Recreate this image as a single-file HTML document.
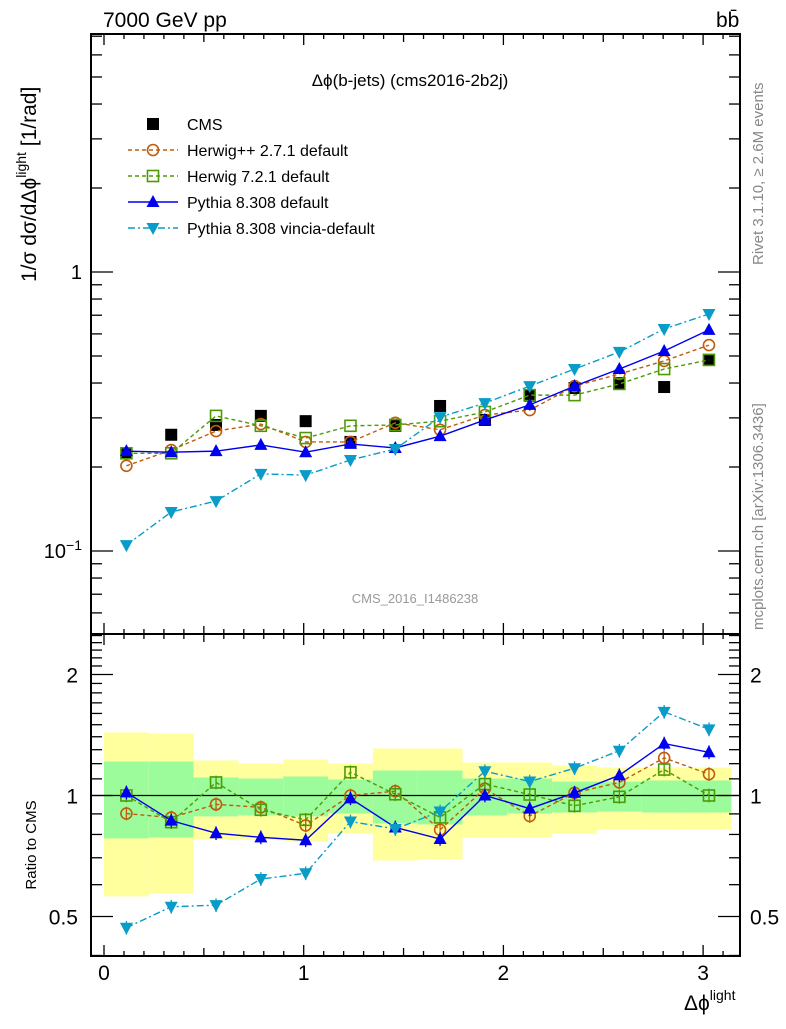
<!DOCTYPE html>
<html><head><meta charset="utf-8"><style>
body{margin:0;background:#fff;}
svg text{font-family:"Liberation Sans",sans-serif;}
</style></head><body>
<svg id="c" width="786" height="1024" viewBox="0 0 786 1024" xmlns="http://www.w3.org/2000/svg">
<text x="103" y="27" font-size="21">7000 GeV pp</text>
<text x="716" y="27" font-size="21">bb̄</text>
<text x="410" y="86" font-size="17" text-anchor="middle">Δϕ(b-jets) (cms2016-2b2j)</text>
<text x="415" y="603" font-size="13" fill="#999" text-anchor="middle">CMS_2016_I1486238</text>
<text transform="translate(763,265) rotate(-90)" font-size="15" fill="#888">Rivet 3.1.10, ≥ 2.6M events</text>
<text transform="translate(763,630) rotate(-90)" font-size="15" fill="#888">mcplots.cern.ch [arXiv:1306.3436]</text>
<text transform="translate(36,282) rotate(-90)" font-size="21">1/σ dσ/dΔϕ<tspan dy="-10" font-size="14">light</tspan><tspan dy="10"> [1/rad]</tspan></text>
<text transform="translate(36,845) rotate(-90)" font-size="15" text-anchor="middle">Ratio to CMS</text>
<text x="684" y="1010" font-size="21">Δϕ<tspan dy="-10" font-size="14">light</tspan></text>
<g id="g"></g>
</svg>
<script>
const binEdges=[0,0.2244,0.4488,0.6732,0.8976,1.122,1.3464,1.5708,1.7952,2.0196,2.244,2.4684,2.6928,2.9172,3.1416];
const cms=[0.224,0.261,0.283,0.305,0.292,0.246,0.281,0.331,0.295,0.360,0.384,0.400,0.387,0.484];
const herwigpp=[0.202,0.230,0.269,0.285,0.246,0.246,0.288,0.272,0.307,0.320,0.390,0.431,0.480,0.547];
const herwig7=[0.224,0.224,0.305,0.281,0.254,0.281,0.283,0.292,0.315,0.362,0.362,0.397,0.449,0.484];
const pythia=[0.228,0.226,0.228,0.240,0.226,0.242,0.234,0.258,0.295,0.334,0.390,0.449,0.521,0.620];
const vincia=[0.105,0.138,0.151,0.189,0.187,0.212,0.232,0.302,0.339,0.390,0.449,0.517,0.625,0.707];
const totUp=[1.435,1.427,1.222,1.201,1.229,1.201,1.309,1.309,1.208,1.208,1.188,1.174,1.174,1.174];
const totDn=[0.561,0.570,0.777,0.777,0.768,0.804,0.689,0.693,0.786,0.786,0.804,0.823,0.823,0.823];
const statUp=[1.215,1.215,1.109,1.102,1.115,1.096,1.154,1.154,1.102,1.102,1.083,1.083,1.090,1.090];
const statDn=[0.782,0.786,0.887,0.892,0.887,0.902,0.852,0.847,0.892,0.902,0.907,0.912,0.907,0.907];
const xTicks=[0,1,2,3];
const ratioTickLabels=[0.5,1,2];

const L=91,R=740,T=34,MB=634,RB=956;
const X=v=>104+v*199.7;
const YM=v=>272-Math.log10(v)*279;
const YR=v=>795.5-Math.log10(v)*402;
const g=document.getElementById('g');
const NS='http://www.w3.org/2000/svg';
function mk(t,a,p){const e=document.createElementNS(NS,t);for(const k in a)e.setAttribute(k,a[k]);(p||g).appendChild(e);return e;}
const centers=binEdges.slice(0,-1).map((e,i)=>(e+binEdges[i+1])/2);

for(let i=0;i<14;i++){
 const x0=X(binEdges[i]),x1=X(binEdges[i+1]);
 const b=mk('rect',{x:x0,y:YR(totUp[i]),width:x1-x0,height:YR(totDn[i])-YR(totUp[i]),fill:'#ffff9e'});
 
 
 const s=mk('rect',{x:x0,y:YR(statUp[i]),width:x1-x0,height:YR(statDn[i])-YR(statUp[i]),fill:'#9cfc9c'});
 
 
}
const one=mk('line',{x1:L,x2:R,y1:YR(1),y2:YR(1),stroke:'#000','stroke-width':1.3});



function marker(type,x,y,col,name){
 let e;
 if(type==='sq') e=mk('rect',{x:x-6,y:y-6,width:12,height:12,fill:'#000'});
 else if(type==='osq') e=mk('rect',{x:x-5.5,y:y-5.5,width:11,height:11,fill:'none',stroke:col,'stroke-width':1.6});
 else if(type==='oc') e=mk('circle',{cx:x,cy:y,r:5.5,fill:'none',stroke:col,'stroke-width':1.6});
 else if(type==='up') e=mk('polygon',{points:`${x},${y-7} ${x-6.5},${y+5} ${x+6.5},${y+5}`,fill:col});
 else e=mk('polygon',{points:`${x},${y+7} ${x-6.5},${y-5} ${x+6.5},${y-5}`,fill:col});
 
 
}
centers.forEach((c,i)=>marker('sq',X(c),YM(cms[i]),'#000','cms-point'));
const series=[
 {d:herwigpp,c:'#c05c0c',dash:'4,3',m:'oc',n:'herwigpp'},
 {d:herwig7,c:'#4e9a06',dash:'4,3',m:'osq',n:'herwig7'},
 {d:pythia,c:'#0000ee',dash:'',m:'up',n:'pythia'},
 {d:vincia,c:'#0a9cc8',dash:'7,3,2,3',m:'dn',n:'vincia'}
];
series.forEach(s=>{
 const pm=centers.map((c,i)=>X(c)+','+YM(s.d[i])).join(' ');
 const l1=mk('polyline',{points:pm,fill:'none',stroke:s.c,'stroke-width':1.4,'stroke-dasharray':s.dash});
 
 
 const pr=centers.map((c,i)=>X(c)+','+YR(s.d[i]/cms[i])).join(' ');
 const l2=mk('polyline',{points:pr,fill:'none',stroke:s.c,'stroke-width':1.4,'stroke-dasharray':s.dash});
 
 
 centers.forEach((c,i)=>{
  const r=s.d[i]/cms[i];
  const eb=mk('line',{x1:X(c),x2:X(c),y1:YR(r*1.04),y2:YR(r/1.04),stroke:s.c,'stroke-width':1.3});
  
  
  marker(s.m,X(c),YM(s.d[i]),s.c,s.n+'-point');
  marker(s.m,X(c),YR(r),s.c,s.n+'-ratio-point');
 });
});

[[T,MB],[MB,RB]].forEach(([a,b],k)=>{
 const f=mk('rect',{x:L,y:a,width:R-L,height:b-a,fill:'none',stroke:'#000','stroke-width':2});
 
 
 for(let v=0;v<=3.15;v+=0.1){
  const vv=Math.round(v*10)/10;const major=Math.abs(vv-Math.round(vv))<1e-6;const len=major?11:(Math.abs(vv*2-Math.round(vv*2))<1e-6?8:5);
  mk('line',{x1:X(vv),x2:X(vv),y1:a,y2:a+len,stroke:'#000','stroke-width':1.3});
  mk('line',{x1:X(vv),x2:X(vv),y1:b,y2:b-len,stroke:'#000','stroke-width':1.3});
 }
});
for(let e=-2;e<=0;e++)for(let m=1;m<=9;m++){
 const v=m*Math.pow(10,e);const y=YM(v);if(y<T||y>MB)continue;
 const len=m===1?22:11;
 mk('line',{x1:L,x2:L+len,y1:y,y2:y,stroke:'#000','stroke-width':1.3});
 mk('line',{x1:R,x2:R-len,y1:y,y2:y,stroke:'#000','stroke-width':1.3});
}
const t1=mk('text',{x:82,y:YM(1)+7,'font-size':20,'text-anchor':'end'});t1.textContent='1';


const t2=mk('text',{x:82,y:YM(0.1)+7,'font-size':20,'text-anchor':'end'});t2.innerHTML='10<tspan dy="-8" font-size="14">−1</tspan>';


for(let v=0.4;v<=2.55;v+=0.1){
 const vv=Math.round(v*10)/10;const y=YR(vv);if(y<T||y>RB)continue;
 const major=ratioTickLabels.includes(vv);const len=major?22:11;
 mk('line',{x1:L,x2:L+len,y1:y,y2:y,stroke:'#000','stroke-width':1.3});
 mk('line',{x1:R,x2:R-len,y1:y,y2:y,stroke:'#000','stroke-width':1.3});
}
ratioTickLabels.forEach(v=>{
 const a=mk('text',{x:78,y:YR(v)+8,'font-size':21,'text-anchor':'end'});a.textContent=v;
 
 
 const b=mk('text',{x:750,y:YR(v)+8,'font-size':21});b.textContent=v;
 
 
});
xTicks.forEach(v=>{
 const t=mk('text',{x:X(v),y:980,'font-size':21,'text-anchor':'middle'});t.textContent=v;
 
 
});
const leg=[['CMS','#000','','sq'],['Herwig++ 2.7.1 default','#c05c0c','4,3','oc'],['Herwig 7.2.1 default','#4e9a06','4,3','osq'],['Pythia 8.308 default','#0000ee','','up'],['Pythia 8.308 vincia-default','#0a9cc8','7,3,2,3','dn']];
leg.forEach((l,i)=>{
 const y=124+i*26;
 if(i>0){const ln=mk('line',{x1:128,x2:178,y1:y,y2:y,stroke:l[1],'stroke-width':1.4,'stroke-dasharray':l[2]});
  
  }
 marker(l[3],153,y,l[1],'legend-marker');
 const t=mk('text',{x:187,y:y+6,'font-size':16});t.textContent=l[0];
 
 
});
</script>
</body></html>
